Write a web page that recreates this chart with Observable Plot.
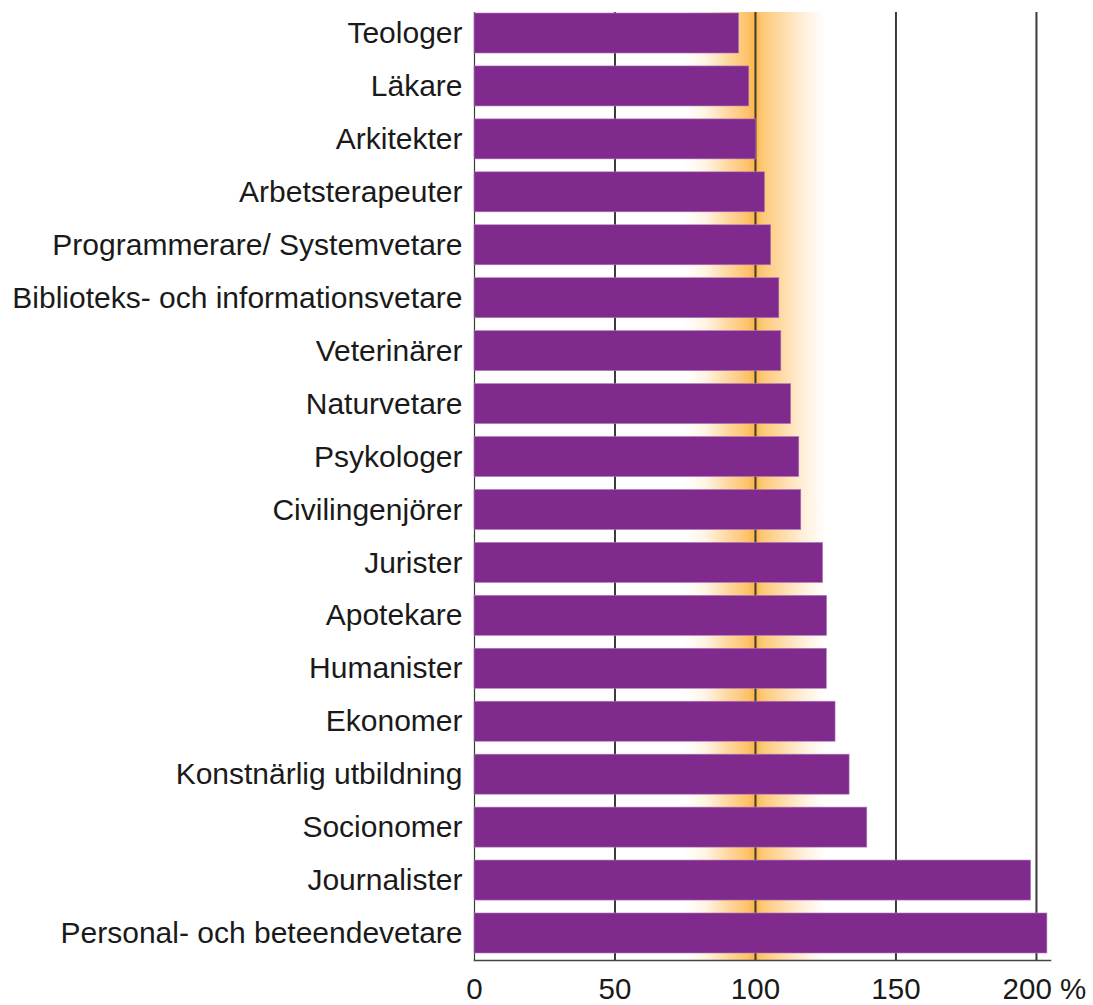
<!DOCTYPE html>
<html>
<head>
<meta charset="utf-8">
<script src="https://cdn.jsdelivr.net/npm/d3@7"></script>
<script src="https://cdn.jsdelivr.net/npm/@observablehq/plot@0.6"></script>
<style>
  html, body { margin: 0; padding: 0; background: #ffffff; }
  #chart svg { display: block; font-family: "Liberation Sans", Arial, sans-serif; }
</style>
</head>
<body>
<div id="chart"></div>
<script>
const categories = [
  "Teologer", "Läkare", "Arkitekter", "Arbetsterapeuter",
  "Programmerare/ Systemvetare", "Biblioteks- och informationsvetare",
  "Veterinärer", "Naturvetare", "Psykologer", "Civilingenjörer",
  "Jurister", "Apotekare", "Humanister", "Ekonomer",
  "Konstnärlig utbildning", "Socionomer", "Journalister",
  "Personal- och beteendevetare"
];
const values = [
  94.2, 97.8, 100.3, 103.4,
  105.6, 108.5,
  109.2, 112.7, 115.6, 116.3,
  124.1, 125.5, 125.4, 128.5,
  133.5, 139.8, 198.1,
  203.9
];
const xTicks = [0, 50, 100, 150];
const lastTick = [200];
const gridLines = [50, 100, 150, 200];
const band = [75, 125];

const data = categories.map((c, i) => ({ category: c, value: values[i] }));

const chart = Plot.plot({
  width: 1093,
  height: 1005,
  marginLeft: 474,
  marginRight: 43,
  marginTop: 12,
  marginBottom: 45,
  style: { fontFamily: "'Liberation Sans', Arial, sans-serif", color: "#1a1a1a", background: "#ffffff" },
  x: { domain: [0, 205], axis: null },
  y: { domain: categories, paddingInner: 0.244, paddingOuter: 0.0755, align: 0.125, round: false, axis: null },
  marks: [
    Plot.rect([{ x1: band[0], x2: band[1] }], { x1: "x1", x2: "x2", fill: "url(#bandGrad)" }),
    Plot.ruleX(gridLines, { stroke: "#3a3a3a", strokeWidth: 2 }),
    Plot.ruleX([0], { stroke: "#3a3a3a", strokeWidth: 1.2 }),
    Plot.barX(data, { x: "value", y: "category", fill: "#7f2a8c", stroke: "#b07fbb", strokeWidth: 0.6 }),
    Plot.frame({ anchor: "bottom", stroke: "#444", strokeWidth: 1.6 }),
    Plot.axisY({ tickSize: 0, tickPadding: 12, fontSize: 30, label: null }),
    Plot.axisX(xTicks, { tickSize: 0, tickPadding: 18, fontSize: 29.5, label: null, tickFormat: d => String(d) }),
    Plot.axisX(lastTick, { tickSize: 0, tickPadding: 18, fontSize: 29.5, dx: 8, label: null, tickFormat: d => d + " %" })
  ]
});

// gradient definition for the orange band around 100
const svgNS = "http://www.w3.org/2000/svg";
const defs = document.createElementNS(svgNS, "defs");
const grad = document.createElementNS(svgNS, "linearGradient");
grad.setAttribute("id", "bandGrad");
grad.setAttribute("x1", "0"); grad.setAttribute("x2", "1");
grad.setAttribute("y1", "0"); grad.setAttribute("y2", "0");
[
  [0, "#ffffff"],
  [0.15, "#fff3e3"],
  [0.3, "#fed9a2"],
  [0.45, "#fdc26a"],
  [0.5, "#fcb445"],
  [0.55, "#fdc873"],
  [0.7, "#fedcaa"],
  [0.85, "#fff0dc"],
  [1, "#ffffff"]
].forEach(([o, c]) => {
  const s = document.createElementNS(svgNS, "stop");
  s.setAttribute("offset", o);
  s.setAttribute("stop-color", c);
  grad.appendChild(s);
});
defs.appendChild(grad);
chart.insertBefore(defs, chart.firstChild);

document.getElementById("chart").appendChild(chart);
</script>
</body>
</html>
